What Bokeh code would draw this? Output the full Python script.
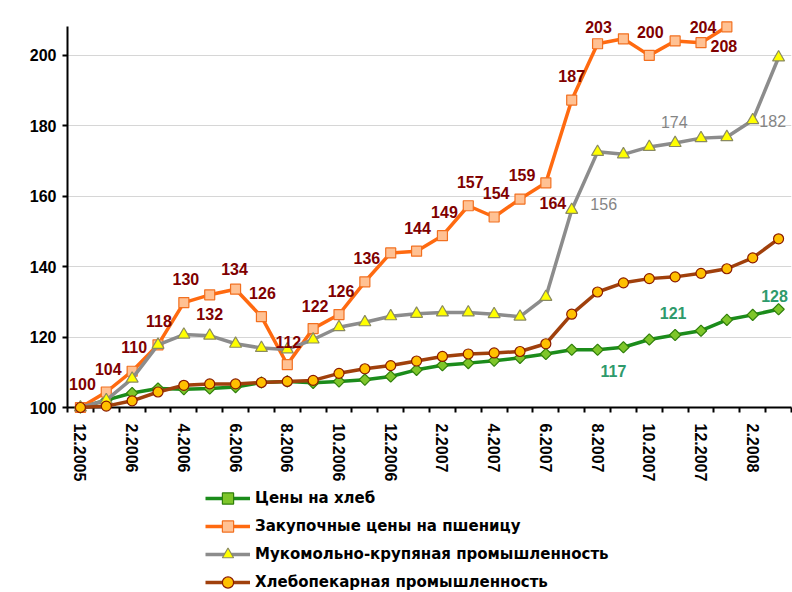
import math
from bokeh.plotting import figure
from bokeh.layouts import column
from bokeh.models import Range1d, FixedTicker, ColumnDataSource, Legend, LegendItem
from bokeh.embed import file_html
from bokeh.resources import INLINE
from bokeh.core.properties import value

# ---- data ----
months = ["12.2005", "1.2006", "2.2006", "3.2006", "4.2006", "5.2006", "6.2006",
          "7.2006", "8.2006", "9.2006", "10.2006", "11.2006", "12.2006", "1.2007",
          "2.2007", "3.2007", "4.2007", "5.2007", "6.2007", "7.2007", "8.2007",
          "9.2007", "10.2007", "11.2007", "12.2007", "1.2008", "2.2008", "3.2008"]

bread = [100, 102.1, 104.1, 105.4, 105.2, 105.4, 105.8, 107.1, 107.4, 107.0, 107.4,
         107.9, 108.8, 110.7, 112.0, 112.6, 113.3, 114.1, 115.2, 116.4, 116.4, 117.1,
         119.3, 120.6, 121.8, 124.9, 126.3, 127.9]

wheat = [100, 104.4, 110.3, 117.8, 129.8, 132.0, 133.6, 125.8, 112.2, 122.4, 126.4,
         135.7, 143.9, 144.4, 148.8, 157.3, 154.1, 159.2, 163.8, 187.3, 203.3, 204.7,
         200.0, 204.1, 203.6, 208.1]

milling = [100, 102.1, 108.2, 117.8, 120.7, 120.4, 118.1, 116.9, 116.5, 119.3, 122.8,
           124.2, 125.9, 126.6, 127.0, 127.0, 126.5, 125.8, 131.4, 156.1, 172.6, 171.9,
           174.0, 175.1, 176.5, 176.8, 181.6, 199.4]

baking = [100, 100.4, 101.9, 104.4, 106.3, 106.7, 106.7, 107.1, 107.4, 107.7, 109.7,
          111.0, 111.9, 113.2, 114.5, 115.2, 115.5, 115.9, 118.1, 126.5, 132.8, 135.4,
          136.6, 137.1, 138.1, 139.4, 142.5, 147.9]

series_names = ["Цены на хлеб", "Закупочные цены на пшеницу",
                "Мукомольно-крупяная промышленность", "Хлебопекарная промышленность"]

y_ticks = [100, 120, 140, 160, 180, 200]

# label placement: (index, dx px, dy px, screen-down positive)
wheat_lbl = [(0, 2, -24), (1, 2, -23), (2, 2, -24), (3, 1, -24), (4, 2, -24), (5, 0, 19),
             (6, -1, -20), (7, 1, -24), (8, 1, -23), (9, 2, -23), (10, 2, -24),
             (11, 2, -24), (13, 1, -23), (14, 2, -24), (15, 2, -24), (16, 2, -24),
             (17, 2, -24), (18, 7, 20), (19, 0, -24), (20, 1, -17), (22, 1, -23),
             (24, 2, -16), (25, -3, 19)]
milling_lbl = [(19, 32, -6), (22, 25, -25), (26, 20, 1)]
bread_lbl = [(21, -10, 24), (23, -2, -22), (27, -4, -13)]

FONT = "Liberation Sans"

p = figure(width=792, height=484, output_backend="svg", toolbar_location=None,
           x_range=Range1d(-0.5, 27.5), y_range=Range1d(100, 208.2),
           min_border_left=67, min_border_right=1, min_border_top=26,
           min_border_bottom=75)
p.outline_line_color = None
p.xgrid.visible = False
p.ygrid.ticker = FixedTicker(ticks=y_ticks[1:])
p.ygrid.grid_line_color = "#D6D6D6"
p.ygrid.grid_line_width = 1

# x axis
xa = p.xaxis[0]
xa.ticker = FixedTicker(ticks=list(range(0, len(months), 2)),
                        minor_ticks=[i - 0.5 for i in range(len(months) + 1)])
xa.major_label_overrides = {i: months[i] for i in range(0, len(months), 2)}
xa.major_label_orientation = "vertical"
xa.major_tick_out = 0
xa.major_tick_in = 0
xa.minor_tick_out = 5
xa.minor_tick_in = 0
xa.minor_tick_line_color = "black"
xa.minor_tick_line_width = 2
xa.axis_line_width = 2
xa.axis_line_color = "black"
xa.major_label_standoff = 11
xa.major_label_text_font = FONT
xa.major_label_text_font_style = "bold"
xa.major_label_text_font_size = "16px"
xa.major_label_text_color = "black"

# y axis
ya = p.yaxis[0]
ya.ticker = FixedTicker(ticks=y_ticks)
ya.major_tick_out = 5
ya.major_tick_in = 0
ya.major_tick_line_width = 2
ya.minor_tick_out = 0
ya.minor_tick_in = 0
ya.axis_line_width = 2
ya.axis_line_color = "black"
ya.major_label_standoff = 6
ya.major_label_text_font = FONT
ya.major_label_text_font_style = "bold"
ya.major_label_text_font_size = "16px"
ya.major_label_text_color = "black"

x_all = list(range(len(months)))

STYLES = [
    dict(line_color="#1B8C1B", marker="square", fill="#7EC62A", outline="#2F7F0A", size=8, angle=math.pi / 4),
    dict(line_color="#FF6A10", marker="square", fill="#FFC193", outline="#F27020", size=10, angle=0.0),
    dict(line_color="#8C8C8C", marker="triangle", fill="#FFFF00", outline="#8A8A60", size=12, angle=0.0),
    dict(line_color="#A0400C", marker="circle", fill="#FFC000", outline="#8A1A00", size=10, angle=0.0),
]


def draw(fig, xs, ys, st, level):
    l = fig.line(xs, ys, line_color=st["line_color"], line_width=3.5, level=level)
    s = fig.scatter(xs, ys, marker=st["marker"], size=st["size"], angle=st["angle"],
                    fill_color=st["fill"], line_color=st["outline"], line_width=1.2,
                    level=level)
    return [l, s]


all_series = [bread, wheat, milling, baking]
for ys, st in zip(all_series, STYLES):
    draw(p, x_all[:len(ys)], ys, st, "overlay")


def labels(ys, spec, color, style):
    src = ColumnDataSource(dict(
        x=[i for i, _, _ in spec],
        y=[ys[i] for i, _, _ in spec],
        t=[str(int(round(ys[i]))) for i, _, _ in spec],
        xo=[dx for _, dx, _ in spec],
        yo=[dy for _, _, dy in spec],
    ))
    p.text(x="x", y="y", text="t", x_offset="xo", y_offset="yo", source=src,
           text_align="center", text_baseline="middle", text_color=color,
           text_font=value(FONT), text_font_style=style, text_font_size="16px",
           level="overlay")


labels(wheat, wheat_lbl, "#800000", "bold")
labels(milling, milling_lbl, "#858585", "normal")
labels(bread, bread_lbl, "#2E9A6C", "bold")

# ---- legend panel (separate figure below) ----
p2 = figure(width=792, height=108, output_backend="svg", toolbar_location=None,
            x_range=Range1d(0, 1), y_range=Range1d(0, 1),
            min_border_left=67, min_border_right=1, min_border_top=0,
            min_border_bottom=0)
p2.axis.visible = False
p2.grid.visible = False
p2.outline_line_color = None

items = []
for name, st in zip(series_names, STYLES):
    # legend proxies: their data lies far outside the visible range
    rs = draw(p2, [-20, -19], [-20, -19], st, "glyph")
    items.append(LegendItem(label=name, renderers=rs))

legend = Legend(items=items, location=(138, -4), orientation="vertical",
                padding=0, margin=0, spacing=0,
                glyph_width=45, glyph_height=28, label_height=28,
                label_standoff=5, border_line_color=None,
                background_fill_alpha=0)
legend.label_text_font = "DejaVu Sans"
legend.label_text_font_style = "bold"
legend.label_text_font_size = "15px"
legend.label_text_color = "black"
p2.add_layout(legend, "center")

layout = column(p, p2, spacing=0)
open("out.html", "w").write(file_html(layout, INLINE))
